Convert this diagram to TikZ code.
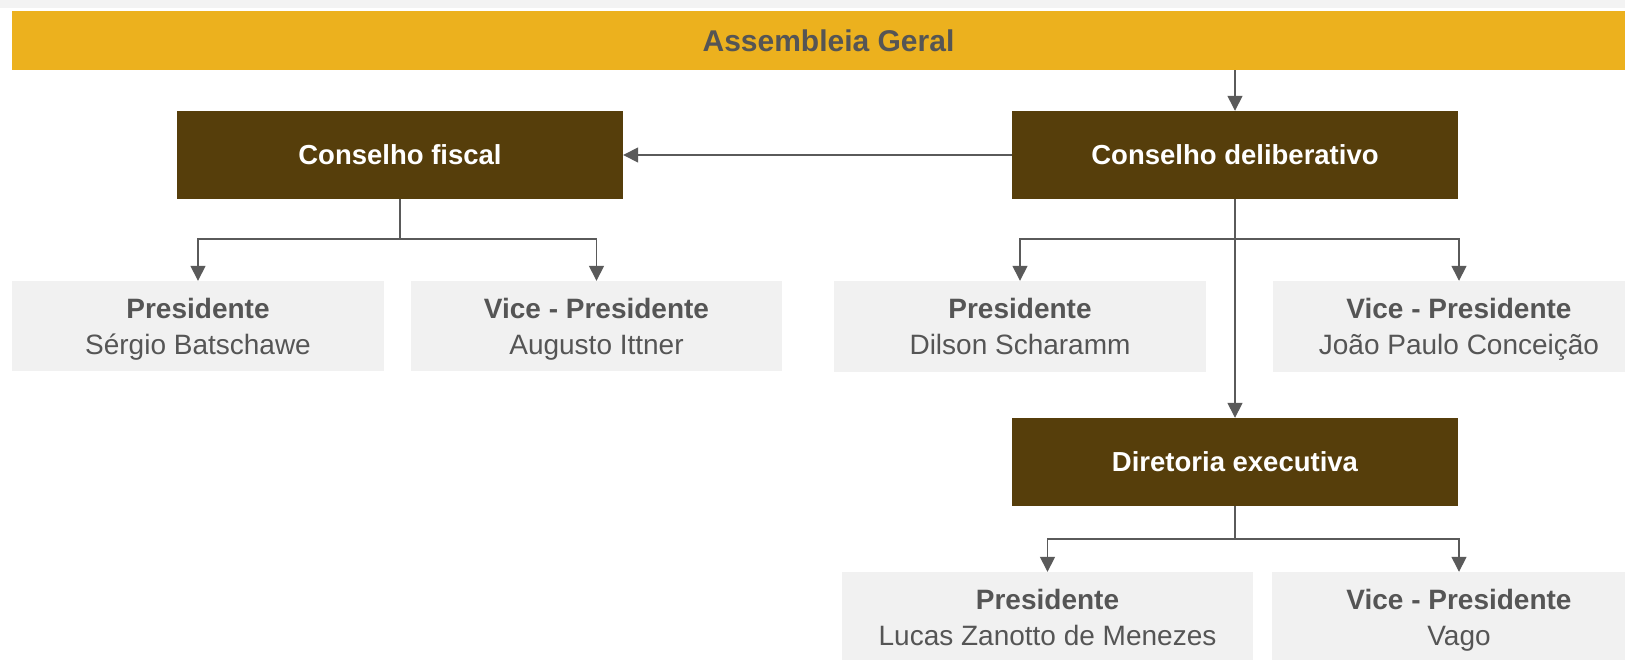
\documentclass[tikz,border=0pt]{standalone}
\usepackage{fontspec}
\setmainfont{Liberation Sans}
\usetikzlibrary{arrows.meta}
\definecolor{gold}{HTML}{ECB11E}
\definecolor{brownbox}{HTML}{563E0B}
\definecolor{graybox}{HTML}{F1F1F1}
\definecolor{txtgray}{HTML}{555555}
\definecolor{linegray}{HTML}{5A5A5A}
\definecolor{topstrip}{HTML}{F3F3F3}
\newcommand\mytopstrut{\rule{0pt}{31pt}}
\tikzset{
  brownnode/.style={fill=brownbox, text=white, minimum width=446pt, minimum height=88pt, inner sep=0pt,
    font=\fontsize{27.5}{33}\selectfont\bfseries},
  personnode/.style={fill=graybox, text=txtgray, minimum height=90pt, inner sep=0pt, align=center,
    font=\fontsize{28}{36}\selectfont},
  conn/.style={draw=linegray, line width=1.5pt},
  arr/.style={conn, -{Triangle[length=15pt,width=15pt]}},
}
\begin{document}
\begin{tikzpicture}[x=1pt,y=-1pt]
\useasboundingbox (0,0) rectangle (1625,660);
\clip (0,0) rectangle (1625,660);
\fill[topstrip] (0,0) rectangle (1625,8);
\node[fill=gold, text=txtgray, minimum width=1633pt, minimum height=59pt, inner sep=0pt,
  font=\fontsize{30}{36}\selectfont\bfseries] (gold) at (828.5,40.5) {Assembleia Geral};
\node[brownnode] (fiscal) at (400,155) {Conselho fiscal};
\node[brownnode] (delib) at (1235,155) {Conselho deliberativo};
\node[brownnode] (dir) at (1235,462) {Diretoria executiva};
\node[personnode, minimum width=372pt] (fp) at (198,326) {\mytopstrut\textbf{Presidente}\\\strut Sérgio Batschawe};
\node[personnode, minimum width=371pt] (fv) at (596.5,326) {\mytopstrut\textbf{Vice - Presidente}\\\strut Augusto Ittner};
\node[personnode, minimum width=372pt, minimum height=91pt] (dp) at (1020,326.5) {\mytopstrut\textbf{Presidente}\\\strut Dilson Scharamm};
\node[personnode, minimum width=372pt, minimum height=91pt] (dv) at (1459,326.5) {\mytopstrut\textbf{Vice - Presidente}\\\strut João Paulo Conceição};
\node[personnode, minimum width=411pt] (rp) at (1047.5,617) {\mytopstrut\textbf{Presidente}\\\strut Lucas Zanotto de Menezes};
\node[personnode, minimum width=374pt] (rv) at (1459,617) {\mytopstrut\textbf{Vice - Presidente}\\\strut Vago};
\coordinate (fj) at (400,239);
\coordinate (dj) at (1235,239);
\coordinate (rj) at (1235,539);
\draw[arr] (delib.north |- gold.south) -- (delib.north);
\draw[arr] (delib.west) -- (fiscal.east);
\draw[conn] (fiscal.south) -- (fj);
\draw[arr] (fj) -| (fp.north);
\draw[arr] (fj) -| (fv.north);
\draw[conn] (delib.south) -- (dj);
\draw[arr] (dj) -| (dp.north);
\draw[arr] (dj) -| (dv.north);
\draw[arr] (dj) -- (dir.north);
\draw[conn] (dir.south) -- (rj);
\draw[arr] (rj) -| (rp.north);
\draw[arr] (rj) -| (rv.north);
\end{tikzpicture}
\end{document}
